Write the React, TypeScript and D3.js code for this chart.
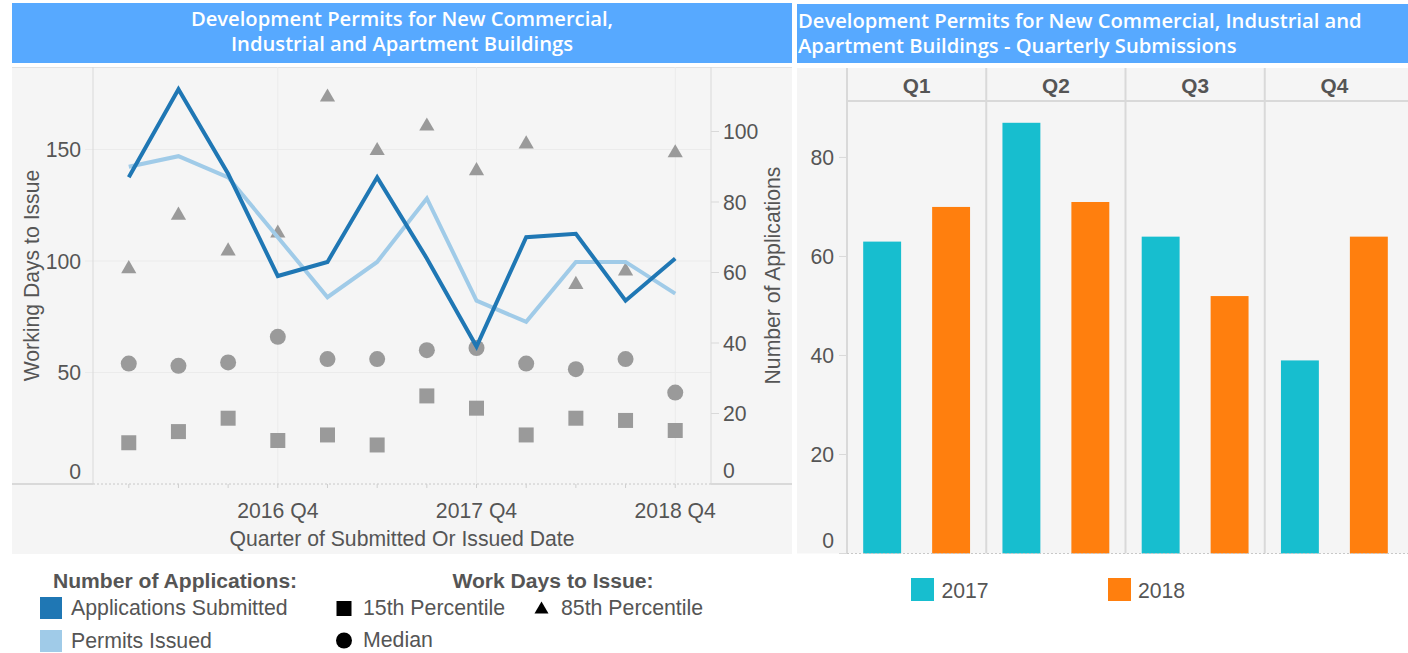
import { useEffect, useRef } from 'react';
import * as d3 from 'd3';

// quarterly series, left chart
const QUARTERS = [
  '2016 Q1', '2016 Q2', '2016 Q3', '2016 Q4',
  '2017 Q1', '2017 Q2', '2017 Q3', '2017 Q4',
  '2018 Q1', '2018 Q2', '2018 Q3', '2018 Q4',
];
const APPS_SUBMITTED = [87, 112, 88, 59, 63, 87, 64, 39, 70, 71, 52, 64];
const PERMITS_ISSUED = [90, 93, 87, 70, 53, 63, 81, 52, 46, 63, 63, 54];
const DAYS_P15 = [18.5, 23.5, 29.5, 19.5, 22, 17.5, 39.5, 34, 22, 29.5, 28.5, 24];
const DAYS_MEDIAN = [54, 53, 54.5, 66, 56, 56, 60, 61, 54, 51.5, 56, 41];
const DAYS_P85 = [97, 121, 105, 113, 174, 150, 161, 141, 153, 90, 96, 149];
const DAYS_TICKS = [0, 50, 100, 150];
const APPS_TICKS = [0, 20, 40, 60, 80, 100];

// right chart
const BAR_QUARTERS = ['Q1', 'Q2', 'Q3', 'Q4'];
const BAR_YEARS = ['2017', '2018'];
const BARS_2017 = [63, 87, 64, 39];
const BARS_2018 = [70, 71, 52, 64];
const BAR_TICKS = [0, 20, 40, 60, 80];

const W = 1408;
const H = 653;
const TITLE_BG = '#57a9ff';
const PANEL_BG = '#f5f5f5';
const GRID = '#ebebeb';
const AXIS = '#d9d9d9';
const TEXT = '#555555';
const MARK = '#9a9a9a';
const DARK_BLUE = '#1f77b4';
const LIGHT_BLUE = '#a0cbe8';
const TEAL = '#17becf';
const ORANGE = '#ff7f0e';
const FONT = '"Liberation Sans", Arial, sans-serif';
const TITLE_FONT = '"Open Sans", "DejaVu Sans", sans-serif';

const L = { left: 93, right: 711, top: 67, bottom: 484, bgLeft: 12, bgRight: 792, bgBottom: 554 };
const R = { left: 847, right: 1404, top: 101, headTop: 68, bottom: 553.5, bgLeft: 797, bgRight: 1408 };

export default function App() {
  const ref = useRef<SVGSVGElement | null>(null);

  useEffect(() => {
    if (!ref.current) return;
    const svg = d3.select(ref.current);
    svg.selectAll('*').remove();

    const txt = (g: any, x: number, y: number, s: string, size = 21.2, anchor = 'start', weight = 'normal') =>
      g.append('text')
        .attr('x', x)
        .attr('y', y)
        .attr('text-anchor', anchor)
        .attr('dominant-baseline', 'central')
        .attr('font-family', FONT)
        .attr('font-size', size)
        .attr('font-weight', weight)
        .attr('fill', TEXT)
        .text(s);

    // ---------- title bars ----------
    svg.append('rect').attr('x', 12).attr('y', 3).attr('width', 780).attr('height', 60).attr('fill', TITLE_BG);
    svg.append('rect').attr('x', 797).attr('y', 4).attr('width', 611).attr('height', 59).attr('fill', TITLE_BG);
    const titleL = ['Development Permits for New Commercial,', 'Industrial and Apartment Buildings'];
    titleL.forEach((s, i) => {
      svg.append('text')
        .attr('x', 402).attr('y', 25.5 + i * 25.5)
        .attr('text-anchor', 'middle')
        .attr('font-family', TITLE_FONT).attr('font-weight', 600).attr('font-size', 20.2)
        .attr('fill', '#ffffff').text(s);
    });
    const titleR = ['Development Permits for New Commercial, Industrial and', 'Apartment Buildings - Quarterly Submissions'];
    titleR.forEach((s, i) => {
      svg.append('text')
        .attr('x', 798).attr('y', 27.5 + i * 25.5)
        .attr('font-family', TITLE_FONT).attr('font-weight', 600).attr('font-size', 20.2)
        .attr('fill', '#ffffff').text(s);
    });

    // ---------- left chart ----------
    const lg = svg.append('g');
    lg.append('rect')
      .attr('x', L.bgLeft).attr('y', L.top)
      .attr('width', L.bgRight - L.bgLeft).attr('height', L.bgBottom - L.top)
      .attr('fill', PANEL_BG);
    lg.append('line').attr('x1', L.bgLeft).attr('x2', L.bgRight).attr('y1', L.top + 0.5).attr('y2', L.top + 0.5)
      .attr('stroke', '#e2e2e2');

    const x = d3.scalePoint<string>().domain(QUARTERS).range([L.left, L.right]).padding(0.72);
    const yDays = d3.scaleLinear().domain([0, 187]).range([L.bottom, L.top]);
    const yApps = d3.scaleLinear().domain([0, 118.3]).range([L.bottom, L.top]);

    DAYS_TICKS.filter((t) => t > 0).forEach((t) => {
      lg.append('line').attr('x1', L.left - 8).attr('x2', L.right).attr('y1', yDays(t)).attr('y2', yDays(t))
        .attr('stroke', GRID);
    });
    QUARTERS.filter((q) => q.endsWith('Q4')).forEach((q) => {
      lg.append('line').attr('x1', x(q)!).attr('x2', x(q)!).attr('y1', L.top).attr('y2', L.bottom)
        .attr('stroke', GRID);
    });
    lg.append('line').attr('x1', L.left).attr('x2', L.left).attr('y1', L.top).attr('y2', L.bottom).attr('stroke', AXIS);
    lg.append('line').attr('x1', L.right).attr('x2', L.right).attr('y1', L.top).attr('y2', L.bottom).attr('stroke', AXIS);

    // bottom axis
    lg.append('line').attr('x1', L.bgLeft).attr('x2', L.left).attr('y1', L.bottom).attr('y2', L.bottom)
      .attr('stroke', AXIS).attr('stroke-width', 2);
    lg.append('line').attr('x1', L.right).attr('x2', L.bgRight).attr('y1', L.bottom).attr('y2', L.bottom)
      .attr('stroke', AXIS).attr('stroke-width', 2);
    lg.append('line').attr('x1', L.left).attr('x2', L.right).attr('y1', L.bottom).attr('y2', L.bottom)
      .attr('stroke', '#c8c8c8').attr('stroke-dasharray', '2 2');
    QUARTERS.forEach((q) => {
      lg.append('line').attr('x1', x(q)!).attr('x2', x(q)!).attr('y1', L.bottom).attr('y2', L.bottom + 4)
        .attr('stroke', '#cfcfcf');
    });

    // tick labels
    DAYS_TICKS.forEach((t) => {
      txt(lg, 81, t === 0 ? L.bottom - 12.5 : yDays(t), String(t), 21.2, 'end');
    });
    APPS_TICKS.forEach((t) => {
      if (t > 0) {
        lg.append('line').attr('x1', L.right).attr('x2', L.right + 8).attr('y1', yApps(t)).attr('y2', yApps(t))
          .attr('stroke', AXIS);
      }
      txt(lg, 723, t === 0 ? L.bottom - 14 : yApps(t), String(t), 21.2, 'start');
    });
    QUARTERS.filter((q) => q.endsWith('Q4')).forEach((q) => {
      txt(lg, x(q)!, 510, q, 21.2, 'middle');
    });
    txt(lg, (L.left + L.right) / 2, 538, 'Quarter of Submitted Or Issued Date', 21.2, 'middle');
    txt(lg, 0, 0, 'Working Days to Issue', 21.2, 'middle')
      .attr('transform', `translate(31,${(L.top + L.bottom) / 2}) rotate(-90)`);
    txt(lg, 0, 0, 'Number of Applications', 21.2, 'middle')
      .attr('transform', `translate(772,${(L.top + L.bottom) / 2}) rotate(-90)`);

    // markers
    const sq = d3.symbol().type(d3.symbolSquare).size(225);
    const tri = d3.symbol().type(d3.symbolTriangle).size(100);
    QUARTERS.forEach((q, i) => {
      lg.append('path').attr('d', sq()!)
        .attr('transform', `translate(${x(q)},${yDays(DAYS_P15[i])})`).attr('fill', MARK);
      lg.append('circle').attr('cx', x(q)!).attr('cy', yDays(DAYS_MEDIAN[i])).attr('r', 8).attr('fill', MARK);
      // symbolTriangle centroid sits below bbox centre; shift so the box is centred on the value
      lg.append('path').attr('d', tri()!)
        .attr('transform', `translate(${x(q)},${yDays(DAYS_P85[i]) + 1.2})`).attr('fill', MARK);
    });

    const line = d3.line<number>().x((_, i) => x(QUARTERS[i])!).y((d) => yApps(d));
    lg.append('path').datum(PERMITS_ISSUED).attr('d', line).attr('fill', 'none')
      .attr('stroke', LIGHT_BLUE).attr('stroke-width', 4);
    lg.append('path').datum(APPS_SUBMITTED).attr('d', line).attr('fill', 'none')
      .attr('stroke', DARK_BLUE).attr('stroke-width', 4);

    // legend (left)
    txt(lg, 53, 580, 'Number of Applications:', 21.1, 'start', 'bold');
    lg.append('rect').attr('x', 40).attr('y', 597).attr('width', 22).attr('height', 22).attr('fill', DARK_BLUE);
    txt(lg, 71, 608, 'Applications Submitted', 21.3);
    lg.append('rect').attr('x', 40).attr('y', 630).attr('width', 22).attr('height', 22).attr('fill', LIGHT_BLUE);
    txt(lg, 71, 641, 'Permits Issued', 21.3);

    txt(lg, 553, 580, 'Work Days to Issue:', 21.1, 'middle', 'bold');
    lg.append('rect').attr('x', 336.5).attr('y', 601).attr('width', 15).attr('height', 15).attr('fill', '#000');
    txt(lg, 363, 608, '15th Percentile', 21.3);
    lg.append('path').attr('d', d3.symbol().type(d3.symbolTriangle).size(85)()!)
      .attr('transform', 'translate(541.5,609.5)').attr('fill', '#000');
    txt(lg, 561, 608, '85th Percentile', 21.3);
    lg.append('circle').attr('cx', 344).attr('cy', 640.5).attr('r', 8).attr('fill', '#000');
    txt(lg, 363, 640, 'Median', 21.3);

    // ---------- right chart ----------
    const rg = svg.append('g');
    rg.append('rect')
      .attr('x', R.bgLeft).attr('y', R.headTop)
      .attr('width', R.bgRight - R.bgLeft).attr('height', R.bottom - R.headTop)
      .attr('fill', PANEL_BG);

    const xq = d3.scaleBand<string>().domain(BAR_QUARTERS).range([R.left, R.right]);
    const xy = d3.scaleBand<string>().domain(BAR_YEARS).range([0, xq.bandwidth()])
      .paddingInner(0.45).paddingOuter(0.235);
    const yb = d3.scaleLinear().domain([0, 91.4]).range([R.bottom, R.top]);

    rg.append('line').attr('x1', R.left).attr('x2', R.bgRight).attr('y1', R.top).attr('y2', R.top)
      .attr('stroke', AXIS).attr('stroke-width', 2);
    BAR_QUARTERS.forEach((q) => {
      rg.append('line').attr('x1', xq(q)!).attr('x2', xq(q)!).attr('y1', R.headTop).attr('y2', R.bottom)
        .attr('stroke', AXIS).attr('stroke-width', 2);
      txt(rg, xq(q)! + xq.bandwidth() / 2, 85, q, 20.8, 'middle', 'bold');
    });

    const barData = BAR_QUARTERS.flatMap((q, i) => [
      { q, year: BAR_YEARS[0], v: BARS_2017[i], c: TEAL },
      { q, year: BAR_YEARS[1], v: BARS_2018[i], c: ORANGE },
    ]);
    rg.selectAll('rect.bar').data(barData).enter().append('rect')
      .attr('class', 'bar')
      .attr('x', (d) => xq(d.q)! + xy(d.year)!)
      .attr('y', (d) => yb(d.v))
      .attr('width', xy.bandwidth())
      .attr('height', (d) => yb(0) - yb(d.v))
      .attr('fill', (d) => d.c);

    BAR_TICKS.forEach((t) => {
      rg.append('line').attr('x1', R.left - 8).attr('x2', R.left).attr('y1', yb(t)).attr('y2', yb(t))
        .attr('stroke', AXIS);
      txt(rg, 834, t === 0 ? R.bottom - 13.5 : yb(t), String(t), 21.2, 'end');
    });
    rg.append('line').attr('x1', R.left).attr('x2', R.bgRight).attr('y1', R.bottom).attr('y2', R.bottom)
      .attr('stroke', '#c8c8c8').attr('stroke-dasharray', '2 2');

    // legend (right)
    rg.append('rect').attr('x', 911).attr('y', 578).attr('width', 23).attr('height', 23).attr('fill', TEAL);
    txt(rg, 941.5, 590, '2017', 21.2);
    rg.append('rect').attr('x', 1108).attr('y', 578).attr('width', 23).attr('height', 23).attr('fill', ORANGE);
    txt(rg, 1138, 590, '2018', 21.2);
  }, []);

  return (
    <svg
      ref={ref}
      width={W}
      height={H}
      viewBox={`0 0 ${W} ${H}`}
      style={{ position: 'absolute', left: 0, top: 0, background: '#fff' }}
    />
  );
}
